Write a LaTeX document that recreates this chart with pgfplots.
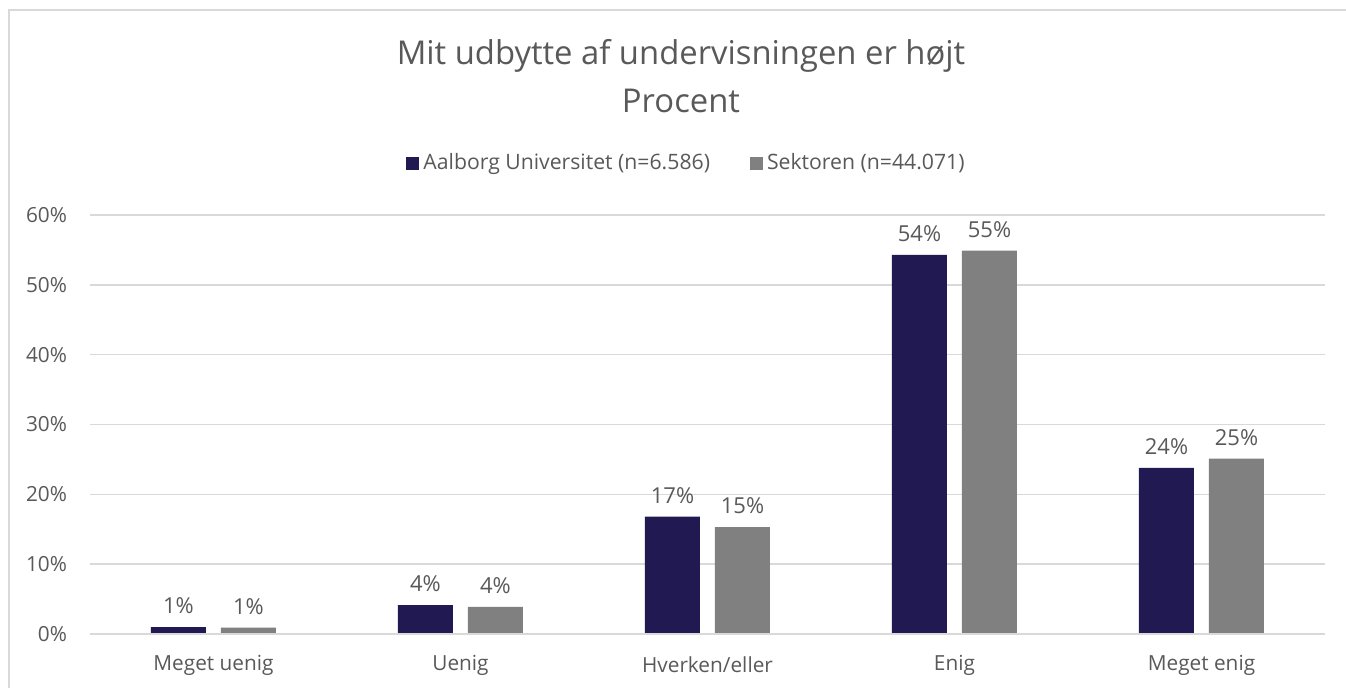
\documentclass[border=0pt]{standalone}
\usepackage{pgfplots}
\pgfplotsset{compat=1.18}
\usepackage{fontspec}
\setmainfont{Open Sans}
\definecolor{navy}{HTML}{211A52}
\definecolor{sgrey}{HTML}{808080}
\definecolor{gridc}{HTML}{D9D9D9}
\definecolor{txt}{HTML}{595959}
\begin{document}
\begin{tikzpicture}
\begin{scope}[x=0.5pt,y=0.5pt]
\useasboundingbox (0,0) rectangle (1346,688);
\draw[gridc, line width=1pt] (8.5,0) -- (8.5,678) -- (1346,678);
\node[txt, font=\fontsize{16.4}{19}\selectfont] at (681,632) {Mit udbytte af undervisningen er højt};
\node[txt, font=\fontsize{16.4}{19}\selectfont] at (681,587) {Procent};
\end{scope}
\begin{axis}[
  at={(45pt,27pt)}, anchor=south west,
  scale only axis, width=617.5pt, height=209.5pt,
  xmin=-0.5, xmax=4.5, ymin=0, ymax=60,
  ybar, bar width=27.5pt, 
  axis line style={draw=none},
  axis x line*=bottom,
  ytick={0,10,20,30,40,50,60},
  yticklabels={0\%,10\%,20\%,30\%,40\%,50\%,60\%},
  xtick={0,1,2,3,4},
  xticklabels={Meget uenig,Uenig,Hverken/eller,Enig,Meget enig},
  major tick length=0pt,
  ymajorgrids, grid style={gridc, line width=0.75pt},
  tick label style={txt, font=\fontsize{10.4}{12}\selectfont},
  yticklabel style={anchor=east, xshift=-8pt},
  xticklabel style={anchor=center, yshift=-15.5pt},
  /pgf/number format/assume math mode=true,
  nodes near coords={\pgfmathprintnumber[fixed,precision=0]{\pgfplotspointmeta}\%},
  every node near coord/.append style={txt, font=\fontsize{11}{13}\selectfont, yshift=3pt},
  legend columns=2,
  legend style={draw=none, at={(0.5,1)}, anchor=center, yshift=26pt, xshift=-10pt,
    font=\fontsize{10.6}{12}\selectfont, text=txt,
    /tikz/every even column/.append style={column sep=18pt}},
  legend image code/.code={\fill[#1,draw=none] (0pt,-3.25pt) rectangle (6.5pt,3.25pt);},
  clip=false,
]
\addplot[fill=navy, draw=none, bar shift=-17.5pt] coordinates {(0,1.0) (1,4.15) (2,16.8) (3,54.3) (4,23.8)};
\addplot[fill=sgrey, draw=none, bar shift=17.5pt] coordinates {(0,0.9) (1,3.9) (2,15.3) (3,54.9) (4,25.1)};
\legend{Aalborg Universitet (n=6.586), Sektoren (n=44.071)}
\draw[gridc, line width=0.75pt] (axis cs:-0.5,0) -- (axis cs:4.5,0);
\end{axis}
\end{tikzpicture}
\end{document}
